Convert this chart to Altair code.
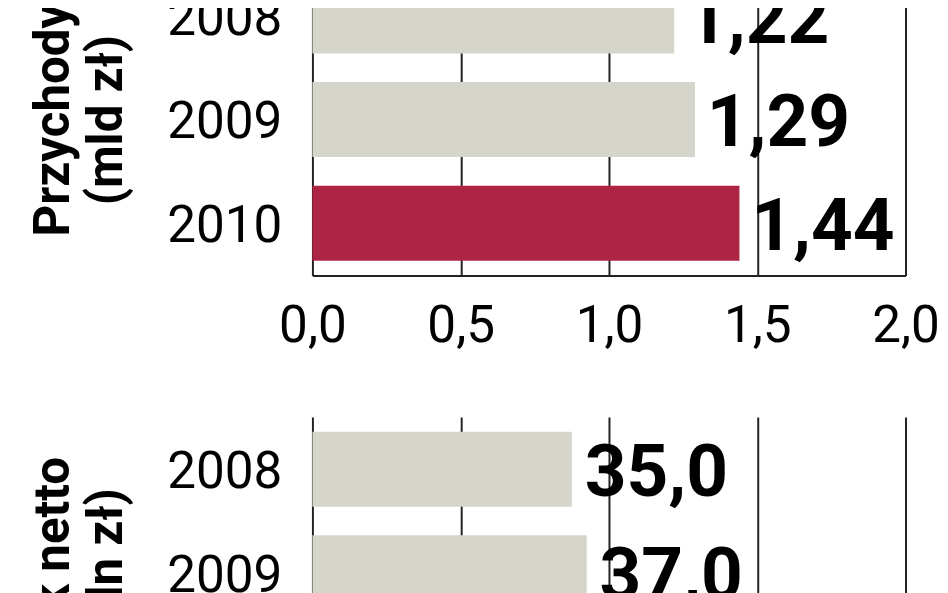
import altair as alt
import pandas as pd

# ---- data ----
years = ["2008", "2009", "2010"]
revenue = [1.22, 1.29, 1.44]            # Przychody, mld zł
profit_years = ["2008", "2009"]         # Zysk netto, mln zł (2010 is outside the visible crop)
profit = [35.0, 37.0]
rev_ticks = [0, 0.5, 1.0, 1.5, 2.0]
profit_ticks = [0, 20, 40, 60, 80]
highlight_year = "2010"

FONT = "Roboto"
RED = "#AE2444"
GRAY = "#D5D5CB"
INK = "#222222"


def make_df(yrs, vals, fmt):
    df = pd.DataFrame({"year": yrs, "value": vals})
    df["hl"] = ["yes" if y == highlight_year else "no" for y in yrs]
    df["label"] = [format(v, fmt).replace(".", ",") for v in vals]
    return df


def panel(df, title, ticks, label_fmt, dx):
    y = alt.Y(
        "year:N",
        sort=years,
        scale=alt.Scale(domain=years, paddingInner=0.276, paddingOuter=0.143),
        axis=alt.Axis(
            title=title,
            titleFont=FONT,
            titleFontWeight="bold",
            titleFontSize=50,
            titleLineHeight=54,
            titleColor="black",
            titlePadding=36,
            labelFont=FONT,
            labelFontSize=52,
            labelColor="black",
            labelPadding=31,
            labelOffset=3,
            domain=False,
            ticks=False,
            grid=False,
        ),
    )
    x = alt.X(
        "value:Q",
        scale=alt.Scale(domain=[ticks[0], ticks[-1]], nice=False, zero=True),
        axis=alt.Axis(
            values=ticks,
            title=None,
            grid=True,
            gridColor=INK,
            gridWidth=2,
            gridOpacity=1,
            domain=True,
            domainColor=INK,
            domainWidth=2,
            ticks=False,
            labelFont=FONT,
            labelFontSize=52,
            labelColor="black",
            labelPadding=26,
            labelFlush=False,
            labelOverlap=False,
            labelExpr=label_fmt,
        ),
    )
    base = alt.Chart(df)
    bars = base.mark_bar().encode(
        y=y,
        x=x,
        color=alt.Color(
            "hl:N", scale=alt.Scale(domain=["yes", "no"], range=[RED, GRAY]), legend=None
        ),
    )
    text = base.mark_text(
        align="left",
        baseline="alphabetic",
        dx=dx,
        dy=27,
        font=FONT,
        fontWeight="bold",
        fontSize=74,
        color="black",
    ).encode(y=y, x=x, text="label:N")
    return alt.layer(bars, text).properties(width=602, height=316.5)


top = panel(
    make_df(years, revenue, ".2f"),
    ["Przychody", "(mld zł)"],
    rev_ticks,
    "replace(format(datum.value, '.1f'), '.', ',')",
    12,
)
bottom = panel(
    make_df(profit_years, profit, ".1f"),
    ["Zysk netto", "(mln zł)"],
    profit_ticks,
    "format(datum.value, 'd')",
    13,
)

chart = (
    alt.vconcat(top, bottom, spacing=143, bounds="flush")
    .properties(padding={"left": 21, "top": -51, "right": 0, "bottom": 0}, background="white")
    .configure_view(stroke=None)
)

chart.save("out.html", embed_options={"renderer": "svg", "actions": False})
